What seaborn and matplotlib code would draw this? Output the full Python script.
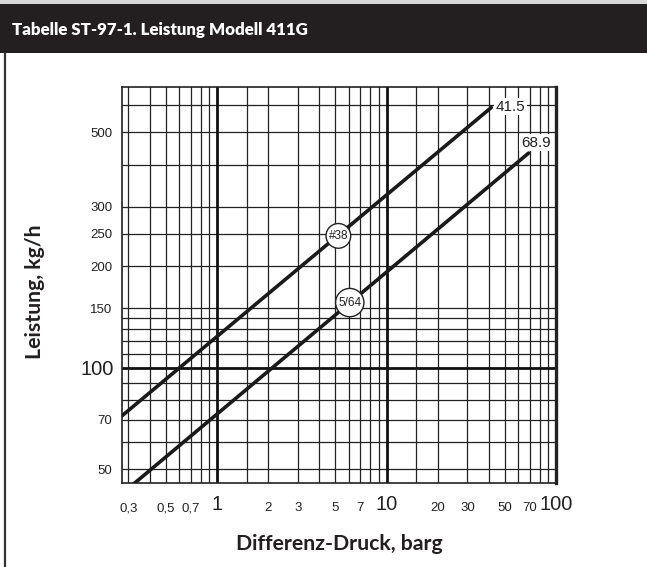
import numpy as np
import pandas as pd
import matplotlib
matplotlib.use("Agg")
import matplotlib.pyplot as plt
import seaborn as sns
from matplotlib.ticker import FixedLocator, FuncFormatter
from matplotlib.patches import Rectangle
from matplotlib.lines import Line2D

# ---------------- data ----------------
title = "Tabelle ST-97-1. Leistung Modell 411G"
x_label = "Differenz-Druck, barg"
y_label = "Leistung, kg/h"

series_names = ["#38", "5/64"]
end_labels = ["41.5", "68.9"]
pressure_38 = [0.275, 41.5]
capacity_38 = [72.0, 591.0]
pressure_564 = [0.327, 68.9]
capacity_564 = [45.5, 433.0]

badge_pos_38 = (5.2, 246.0)
badge_pos_564 = (6.07, 156.0)

x_major = [1, 10, 100]
x_major_labels = ["1", "10", "100"]
x_minor_grid = [0.3, 0.4, 0.5, 0.6, 0.7, 0.8, 0.9, 1.5, 2, 3, 4, 5, 6, 7, 8, 9,
                15, 20, 30, 40, 50, 60, 70, 80, 90]
x_minor_ticks = [0.3, 0.5, 0.7, 2, 3, 5, 7, 20, 30, 50, 70]
x_minor_labels = ["0,3", "0,5", "0,7", "2", "3", "5", "7", "20", "30", "50", "70"]

y_major = [100]
y_major_labels = ["100"]
y_minor_grid = [50, 60, 70, 80, 90, 110, 120, 130, 140, 150, 200, 250, 300, 400, 500, 600]
y_minor_ticks = [50, 70, 150, 200, 250, 300, 500]
y_minor_labels = ["50", "70", "150", "200", "250", "300", "500"]

x_limits = (0.275, 100)
y_limits = (45.5, 680)

# ---------------- figure ----------------
sns.set_style("white")
W, H = 647, 567
fig = plt.figure(figsize=(W / 100, H / 100), dpi=100)

narrow = ["Liberation Sans Narrow", "Liberation Sans", "DejaVu Sans"]
boldfam = ["Lato", "DejaVu Sans"]

# title bar
fig.patches.append(Rectangle((0, 1 - 4 / H), 1, 4 / H, transform=fig.transFigure,
                             facecolor="#d8d8d8", edgecolor="none", zorder=0))
fig.patches.append(Rectangle((0, 1 - 53 / H), 1, 49 / H, transform=fig.transFigure,
                             facecolor="#231f20", edgecolor="none", zorder=0))
fig.text(12 / W, 1 - 30 / H, title, color="white", fontsize=12.2, fontweight="heavy",
         family=boldfam, va="center", ha="left")
fig.lines.append(Line2D([5 / W, 5 / W], [0, 1 - 53 / H], transform=fig.transFigure,
                        color="#333333", lw=1.6))

ax = fig.add_axes([122 / W, 1 - 483 / H, 434 / W, 396 / H])

rows = []
for name, xs, ys in [(series_names[0], pressure_38, capacity_38),
                     (series_names[1], pressure_564, capacity_564)]:
    for xv, yv in zip(xs, ys):
        rows.append({"size": name, "pressure": xv, "capacity": yv})
df = pd.DataFrame(rows)

ax.set_xscale("log")
ax.set_yscale("log")
sns.lineplot(data=df, x="pressure", y="capacity", hue="size",
             palette=["#1a1a1a", "#1a1a1a"], legend=False, lw=2.6,
             sort=False, estimator=None, ax=ax, zorder=5)

ax.set_xlim(*x_limits)
ax.set_ylim(*y_limits)

# grid
for xv in x_minor_grid:
    ax.axvline(xv, color="#222222", lw=0.9, zorder=1)
for xv in x_major:
    ax.axvline(xv, color="#111111", lw=2.0, zorder=2)
for yv in y_minor_grid:
    ax.axhline(yv, color="#222222", lw=0.9, zorder=1)
for yv in y_major:
    ax.axhline(yv, color="#111111", lw=2.0, zorder=2)

for s in ax.spines.values():
    s.set_visible(True)
    s.set_color("#222222")
    s.set_linewidth(1.2)
ax.spines["right"].set_linewidth(2.4)

# ticks
ax.xaxis.set_major_locator(FixedLocator(x_major))
ax.xaxis.set_major_formatter(FuncFormatter(lambda v, p: dict(zip(x_major, x_major_labels)).get(round(v, 3), "")))
ax.xaxis.set_minor_locator(FixedLocator(x_minor_ticks))
ax.xaxis.set_minor_formatter(FuncFormatter(lambda v, p: dict(zip(x_minor_ticks, x_minor_labels)).get(round(v, 3), "")))
ax.yaxis.set_major_locator(FixedLocator(y_major))
ax.yaxis.set_major_formatter(FuncFormatter(lambda v, p: dict(zip(y_major, y_major_labels)).get(round(v, 3), "")))
ax.yaxis.set_minor_locator(FixedLocator(y_minor_ticks))
ax.yaxis.set_minor_formatter(FuncFormatter(lambda v, p: dict(zip(y_minor_ticks, y_minor_labels)).get(round(v, 3), "")))

ax.tick_params(axis="both", which="both", length=0, colors="#222222")
ax.tick_params(axis="x", which="major", labelsize=14.5, pad=9, labelfontfamily=narrow)
ax.tick_params(axis="x", which="minor", labelsize=9.5, pad=14, labelfontfamily=narrow)
ax.tick_params(axis="y", which="major", labelsize=14.5, pad=6, labelfontfamily=narrow)
ax.tick_params(axis="y", which="minor", labelsize=9.5, pad=7, labelfontfamily=narrow)

ax.set_xlabel(x_label, fontsize=15.3, fontweight="bold", family=boldfam, color="#231f20")
ax.set_ylabel(y_label, fontsize=15.3, fontweight="bold", family=boldfam, color="#231f20")
ax.xaxis.set_label_coords(0.5, -0.128)
ax.yaxis.set_label_coords(-0.178, 0.482)

# end labels
ax.text(pressure_38[-1] * 1.06, capacity_38[-1] * 1.005, end_labels[0], fontsize=11,
        family=["Liberation Sans", "DejaVu Sans"], va="center", ha="left", color="#222222",
        bbox=dict(boxstyle="square,pad=0.1", fc="white", ec="none"), zorder=6)
ax.text(pressure_564[-1] * 1.1, capacity_564[-1] * 1.075, end_labels[1], fontsize=11,
        family=["Liberation Sans", "DejaVu Sans"], va="center", ha="center", color="#222222",
        bbox=dict(boxstyle="square,pad=0.1", fc="white", ec="none"), zorder=6)

# badges
for (bx, by), name in [(badge_pos_38, series_names[0]), (badge_pos_564, series_names[1])]:
    ax.text(bx, by, name, fontsize=8.5, family=narrow, ha="center", va="center", color="#222222",
            bbox=dict(boxstyle="circle,pad=0.22", fc="white", ec="#222222", lw=1.0), zorder=7)

fig.savefig("out.png", dpi=100)
